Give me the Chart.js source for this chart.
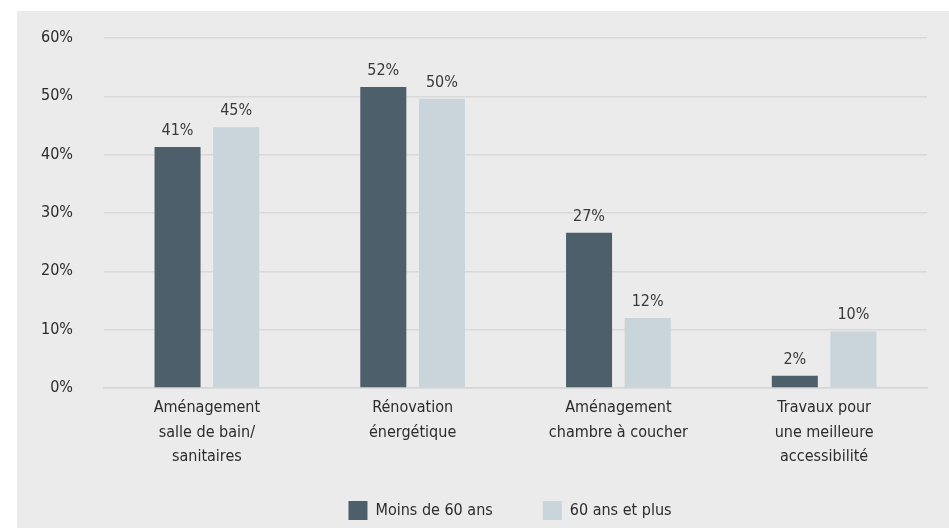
<!DOCTYPE html>
<html lang="fr">
<head>
<meta charset="utf-8">
<title>Travaux envisagés selon l'âge</title>
<script src="https://cdn.jsdelivr.net/npm/chart.js@4.4.1/dist/chart.umd.min.js"></script>
<style>
  html, body { margin: 0; padding: 0; background: #ffffff; overflow: hidden; }
  #cadre {
    position: absolute;
    left: 17px;
    top: 11px;
    width: 932px;
    height: 519px;
    background: #ebebeb;
  }
</style>
</head>
<body>
<div id="cadre"><canvas id="travauxChart"></canvas></div>
<script>
// Catégories de travaux (une ligne par élément du tableau)
const categories = [
    ['Aménagement', 'salle de bain/', 'sanitaires'],
    ['Rénovation', 'énergétique'],
    ['Aménagement', 'chambre à coucher'],
    ['Travaux pour', 'une meilleure', 'accessibilité']
];
const seriesNames = ['Moins de 60 ans', '60 ans et plus'];
const moinsDe60 = [41.3, 51.6, 26.6, 2.1];
const plusDe60 = [44.7, 49.6, 12.0, 9.7];
const yTicks = [0, 10, 20, 30, 40, 50, 60];

const police = "'DejaVu Sans Condensed', 'Liberation Sans Narrow', sans-serif";

// Pourcentage au-dessus de chaque barre
const etiquettesBarres = {
    id: 'etiquettesBarres',
    afterDatasetsDraw(chart) {
        const ctx = chart.ctx;
        ctx.save();
        ctx.font = '16px ' + police;
        ctx.fillStyle = '#3a3a3a';
        ctx.textAlign = 'center';
        ctx.textBaseline = 'alphabetic';
        chart.data.datasets.forEach((ds, i) => {
            chart.getDatasetMeta(i).data.forEach((bar, j) => {
                ctx.fillText(Math.round(ds.data[j]) + '%', bar.x, bar.y - 12);
            });
        });
        ctx.restore();
    }
};

// Légende recentrée sous la zone de tracé, libellés de l'axe X sur trois lignes
const ajustements = {
    id: 'ajustements',
    afterLayout(chart) {
        chart.legend.left += 38;
        chart.legend.right += 38;
        chart.scales.x.bottom = chart.scales.x.top + 90;
    }
};

document.addEventListener('DOMContentLoaded', () => {
    const ctx = document.getElementById('travauxChart').getContext('2d');
    new Chart(ctx, {
        type: 'bar',
        data: {
            labels: categories,
            datasets: [{
                label: seriesNames[0],
                data: moinsDe60,
                backgroundColor: '#4c5f6b'
            }, {
                label: seriesNames[1],
                data: plusDe60,
                backgroundColor: '#c9d4db'
            }]
        },
        options: {
            responsive: true,
            maintainAspectRatio: false,
            animation: false,
            datasets: {
                bar: { categoryPercentage: 0.57, barPercentage: 0.785 }
            },
            layout: { padding: { left: 0, right: 22, top: 27, bottom: 0 } },
            scales: {
                x: {
                    grid: { display: false, drawTicks: false },
                    border: { display: true, color: '#d6d6d6', width: 1.5 },
                    ticks: {
                        color: '#2b2b2b',
                        padding: 8,
                        maxRotation: 0,
                        autoSkip: false,
                        font: { family: police, size: 16, lineHeight: 1.53 }
                    },
                    afterFit: scale => { scale.height = 63; }
                },
                y: {
                    min: 0,
                    max: 60,
                    grid: { color: '#d9d9d9', lineWidth: 1.5, drawTicks: false },
                    border: { display: false },
                    afterBuildTicks: scale => {
                        scale.ticks = yTicks.map(v => ({ value: v }));
                    },
                    ticks: {
                        color: '#2b2b2b',
                        padding: 31,
                        font: { family: police, size: 16 },
                        callback: value => value + '%'
                    },
                    afterFit: scale => {
                        scale.width = 87;
                        scale.paddingTop = 0;
                        scale.paddingBottom = 0;
                    }
                }
            },
            plugins: {
                legend: {
                    position: 'bottom',
                    labels: {
                        boxWidth: 19,
                        boxHeight: 19,
                        padding: 50,
                        color: '#2b2b2b',
                        font: { family: police, size: 16 }
                    }
                },
                tooltip: { enabled: false }
            }
        },
        plugins: [etiquettesBarres, ajustements]
    });
});
</script>
</body>
</html>
